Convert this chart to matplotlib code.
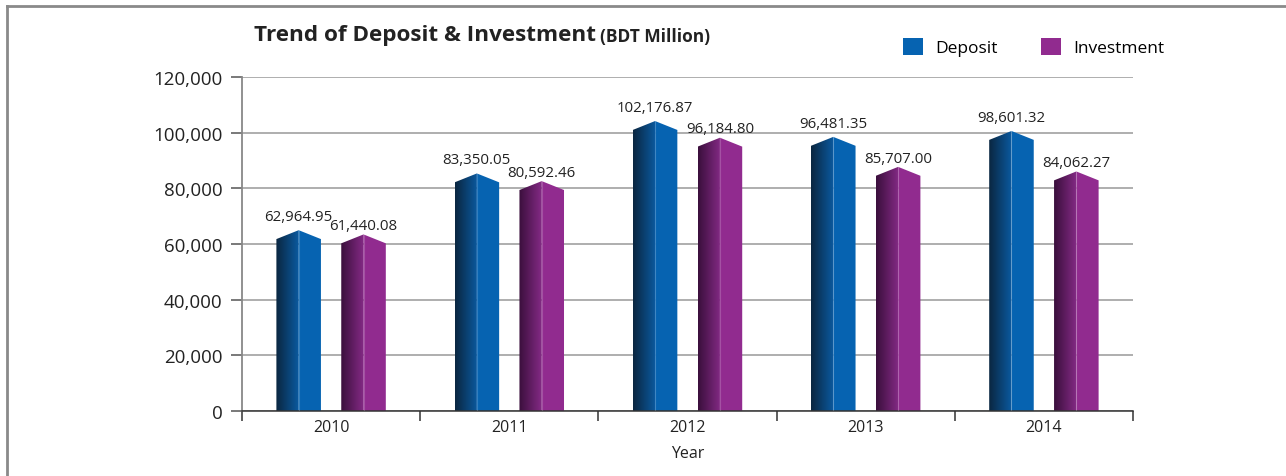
import numpy as np
import matplotlib
matplotlib.use("Agg")
import matplotlib.pyplot as plt
from matplotlib.patches import Polygon, Patch
from matplotlib.colors import LinearSegmentedColormap
from matplotlib.lines import Line2D

plt.rcParams['font.family'] = ['Open Sans', 'DejaVu Sans']

years = ["2010", "2011", "2012", "2013", "2014"]
deposit = [62964.95, 83350.05, 102176.87, 96481.35, 98601.32]
investment = [61440.08, 80592.46, 96184.80, 85707.00, 84062.27]
yticks = [0, 20000, 40000, 60000, 80000, 100000, 120000]

# colores (oscuro, medio, plano)
col_dep = ("#0b2640", "#0a5aa0", "#0663b1")
col_inv = ("#3a0f3c", "#842a85", "#912b8f")

fig = plt.figure(figsize=(12.86, 4.77), dpi=100)
ax = fig.add_axes([242/1286, 1-412/477, 891/1286, 334/477])


def barra(ax, xc, w, v, cols):
    x0, x1 = xc - w/2, xc + w/2
    lo, hi = v - 1200, v + 2000
    izq = Polygon([(x0, 0), (x0, lo), (xc, hi), (xc, 0)], closed=True,
                  facecolor='none', edgecolor='none')
    ax.add_patch(izq)
    cmap = LinearSegmentedColormap.from_list('g', [cols[0], cols[1]])
    grad = np.linspace(0, 1, 128).reshape(1, -1)
    im = ax.imshow(grad, cmap=cmap, extent=(x0, xc, 0, hi), aspect='auto',
                   origin='lower', zorder=2, interpolation='bicubic')
    im.set_clip_path(izq)
    ax.add_patch(Polygon([(xc, 0), (xc, hi), (x1, lo), (x1, 0)], closed=True,
                         facecolor=cols[2], edgecolor='none', zorder=2))
    ax.plot([xc, xc], [0, hi], color='white', alpha=0.18, lw=0.8, zorder=3)
    return hi


x = np.arange(len(years))
w = 0.25
off = 0.182
for i in range(len(years)):
    # deposito un poco mas arriba para que no choquen las etiquetas
    for xc, v, cols, sep in [(x[i] - off, deposit[i], col_dep, 3700),
                             (x[i] + off, investment[i], col_inv, 1900)]:
        hi = barra(ax, xc, w, v, cols)
        ax.text(xc, hi + sep, f"{v:,.2f}", ha='center', va='baseline',
                fontsize=10.8, color='#222222', zorder=4)

ax.set_xlim(-0.5, len(years) - 0.5)
ax.set_ylim(0, 120000)
ax.set_yticks(yticks)
ax.set_yticklabels([f"{t:,}" for t in yticks], fontsize=13.5, color='#222222')
ax.yaxis.grid(True, color='#999999', lw=1.1)
ax.set_axisbelow(True)

ax.set_xticks(x)
ax.set_xticklabels(years, fontsize=11.5, color='#222222')
ax.set_xticks(np.arange(-0.5, len(years)), minor=True)
ax.tick_params(axis='x', which='major', length=0, pad=6)
ax.tick_params(axis='x', which='minor', length=7, color='#333333', width=1.1)
ax.tick_params(axis='y', length=8, color='#555555', width=1.1, pad=6)
ax.set_xlabel("Year", fontsize=11.5, color='#222222', labelpad=7)

for s in ['top', 'right']:
    ax.spines[s].set_visible(False)
ax.spines['left'].set_color('#888888')
ax.spines['left'].set_linewidth(1.3)
ax.spines['bottom'].set_color('#333333')
ax.spines['bottom'].set_linewidth(1.1)

# titulo
fig.text(254/1286, 1-35/477, "Trend of Deposit & Investment", fontsize=16.2,
         fontweight='bold', va='center', ha='left', color='#222222')
fig.text(600/1286, 1-37/477, "(BDT Million)", fontsize=12.5,
         fontweight='bold', va='center', ha='left', color='#222222')

# leyenda
handles = [Patch(facecolor=col_dep[2]), Patch(facecolor=col_inv[2])]
fig.legend(handles, ["Deposit", "Investment"], ncol=2, frameon=False,
           loc='upper left', bbox_to_anchor=(903/1286, 1-39/477),
           fontsize=12.5, handlelength=1.15, handleheight=1.1,
           handletextpad=0.7, columnspacing=2.5, borderpad=0,
           borderaxespad=0)

# marco
fig.add_artist(Line2D([7/1286, 7/1286], [0, 1-7/477], color='#8a8a8a', lw=2))
fig.add_artist(Line2D([7/1286, 1], [1-7/477, 1-7/477], color='#8a8a8a', lw=2))

fig.savefig("out.png", dpi=100)
